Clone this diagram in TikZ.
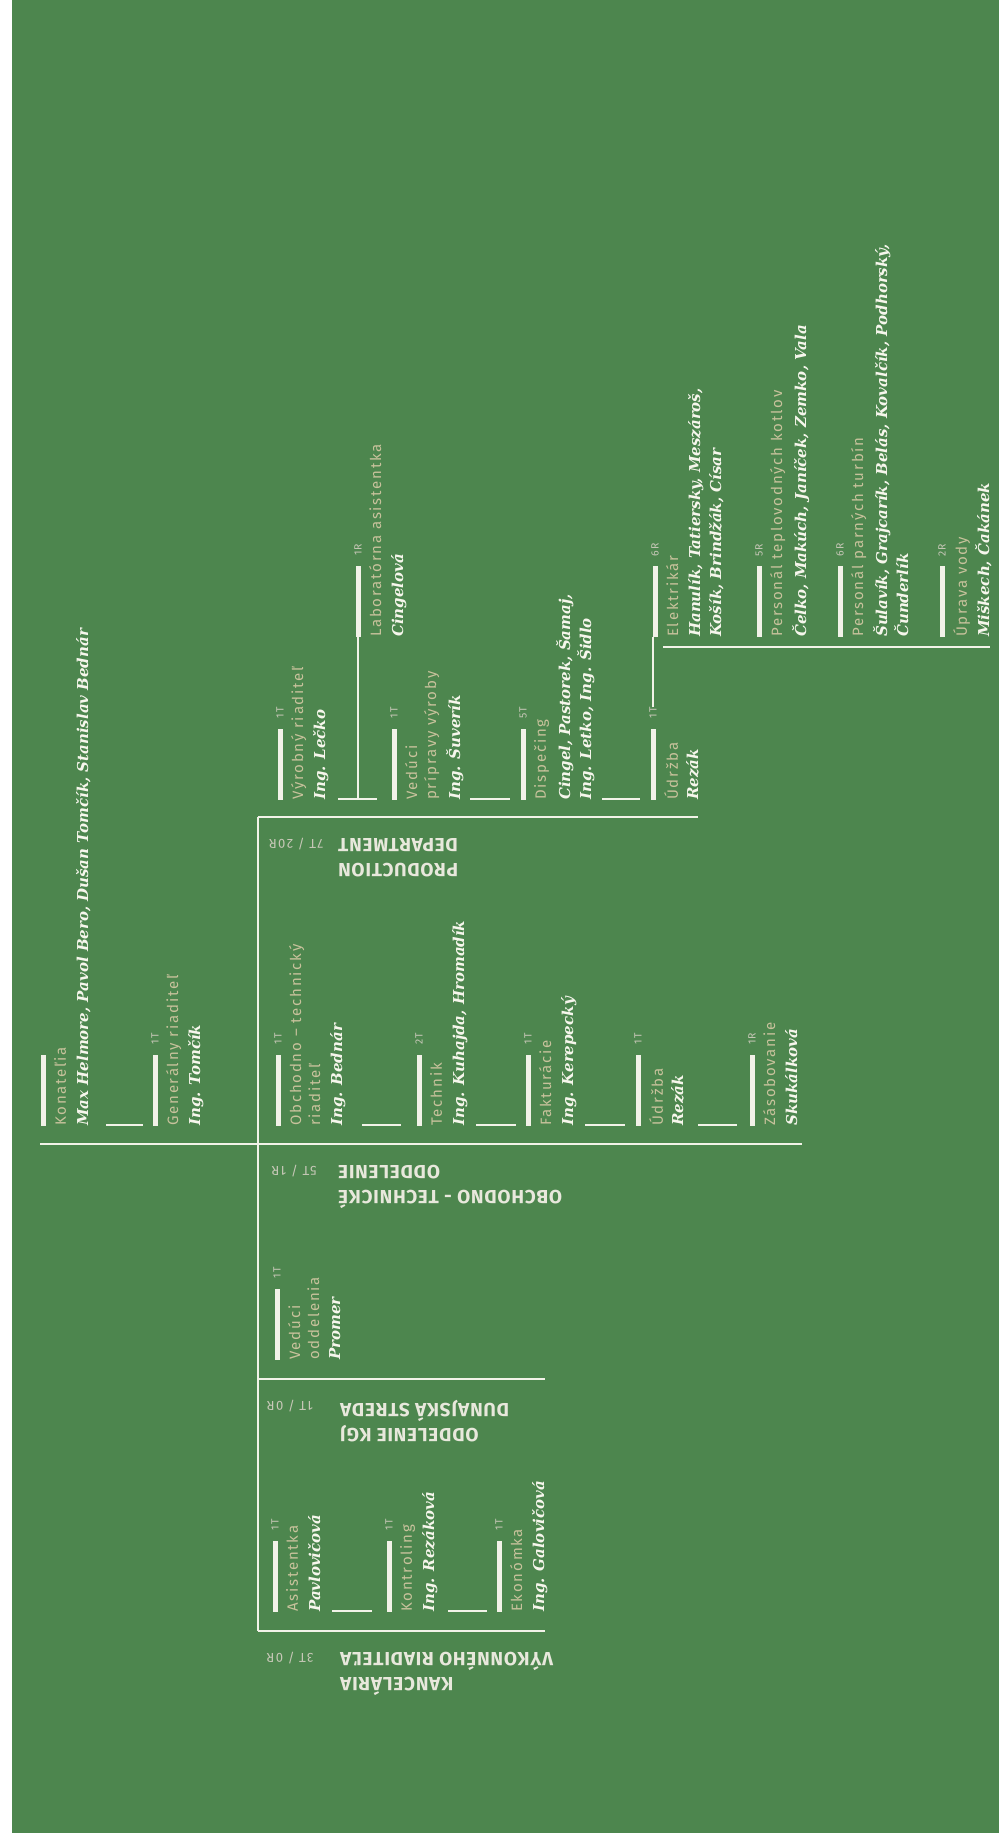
\documentclass[tikz,border=0pt]{standalone}
\usepackage{fontspec}
\setmainfont{Fira Sans}
\newfontfamily\rolefont[LetterSpace=12]{Fira Sans}
\newfontfamily\deptfont[LetterSpace=4]{Fira Sans}
\newfontfamily\cntfont[LetterSpace=10]{Fira Sans}
\newfontfamily\whofont{DejaVu Serif}
\definecolor{bggreen}{RGB}{77,134,78}
\definecolor{barwhite}{RGB}{242,242,232}
\definecolor{rolecol}{RGB}{200,194,156}
\definecolor{whocol}{RGB}{246,246,236}
\definecolor{deptcol}{RGB}{232,232,220}
\definecolor{cntcol}{RGB}{200,200,184}
\tikzset{
  bar/.style={fill=barwhite, minimum width=5pt, minimum height=71pt, inner sep=0pt},
  cnt/.style={rotate=90, inner sep=0pt, text=cntcol, font=\cntfont\fontsize{10.5}{12}\selectfont},
  role/.style={rotate=90, anchor=north west, inner sep=0pt, align=left, text=rolecol, font=\rolefont\fontsize{15}{19}\selectfont},
  who/.style={rotate=90, anchor=north west, inner sep=0pt, align=left, text=whocol, font=\whofont\bfseries\itshape\fontsize{15}{21}\selectfont},
  dept/.style={rotate=180, anchor=south east, inner sep=0pt, align=right, text=deptcol, font=\deptfont\bfseries\fontsize{19}{25}\selectfont},
  deptcnt/.style={rotate=180, inner sep=0pt, text=cntcol, font=\cntfont\fontsize{13}{15}\selectfont},
  rule/.style={draw=barwhite, line width=1.6pt}
}
\begin{document}
\begin{tikzpicture}[x=1pt, y=-1pt]
    \useasboundingbox (0, 0) rectangle (999, 1840);
    \fill[white] (0, 0) rectangle (999, 1840);
    \fill[bggreen] (12, 0) rectangle (999, 1833);

    % section lines
    \draw[rule] (40, 1144) -- (802, 1144);
    \draw[rule] (258, 817) -- (258, 1631);
    \draw[rule] (258, 817) -- (698, 817);
    \draw[rule] (258, 1379) -- (545, 1379);
    \draw[rule] (258, 1631) -- (545, 1631);
    \draw[rule] (663, 647) -- (990, 647);

    % department headers
    \draw (338, 838) node[dept](prod){PRODUCTION\\DEPARTMENT};
    \draw (296, 844) node[deptcnt](prodcnt){7T / 20R};
    \draw (338, 1165) node[dept](obch){OBCHODNO - TECHNICKÉ\\ODDELENIE};
    \draw (294, 1171) node[deptcnt](obchcnt){5T / 1R};
    \draw (340, 1400) node[dept](kgj){ODDELENIE KGJ\\DUNAJSKÁ STREDA};
    \draw (290, 1406) node[deptcnt](kgjcnt){1T / 0R};
    \draw (340, 1652) node[dept](kanc){KANCELÁRIA\\VÝKONNÉHO RIADITEĽA};
    \draw (290, 1658) node[deptcnt](kanccnt){3T / 0R};

    % top row
    \draw (43, 1090.5) node[bar](konbar){};
    \draw (54, 1126) node[role](konrole){Konateľia};
    \draw (76, 1126) node[who](konwho){Max Helmore, Pavol Bero, Dušan Tomčík, Stanislav Bednár};
    \draw[rule] (106, 1125) -- (143, 1125);
    \draw (155, 1090.5) node[bar](genbar){};
    \draw (155, 1039) node[cnt](gencnt){1T};
    \draw (166, 1126) node[role](genrole){Generálny riaditeľ};
    \draw (188, 1126) node[who](genwho){Ing. Tomčík};

    % obchodno - technicke oddelenie
    \draw (278, 1090.5) node[bar](otrbar){};
    \draw (278, 1039) node[cnt](otrcnt){1T};
    \draw (289, 1126) node[role](otrrole){Obchodno – technický\\riaditeľ};
    \draw (330, 1126) node[who](otrwho){Ing. Bednár};
    \draw[rule] (362, 1125) -- (401, 1125);
    \draw (419, 1090.5) node[bar](tecbar){};
    \draw (419, 1039) node[cnt](teccnt){2T};
    \draw (430, 1126) node[role](tecrole){Technik};
    \draw (452, 1126) node[who](tecwho){Ing. Kuhajda, Hromadík};
    \draw[rule] (476, 1125) -- (516, 1125);
    \draw (528, 1090.5) node[bar](fakbar){};
    \draw (528, 1039) node[cnt](fakcnt){1T};
    \draw (539, 1126) node[role](fakrole){Fakturácie};
    \draw (561, 1126) node[who](fakwho){Ing. Kerepecký};
    \draw[rule] (585, 1125) -- (625, 1125);
    \draw (638, 1090.5) node[bar](udrbar){};
    \draw (638, 1039) node[cnt](udrcnt){1T};
    \draw (649, 1126) node[role](udrrole){Údržba};
    \draw (671, 1126) node[who](udrwho){Rezák};
    \draw[rule] (698, 1125) -- (737, 1125);
    \draw (752, 1090.5) node[bar](zasbar){};
    \draw (752, 1039) node[cnt](zascnt){1R};
    \draw (763, 1126) node[role](zasrole){Zásobovanie};
    \draw (785, 1126) node[who](zaswho){Skukálková};

    % production department
    \draw (280, 764.5) node[bar](vyrbar){};
    \draw (280, 713) node[cnt](vyrcnt){1T};
    \draw (291, 800) node[role](vyrrole){Výrobný riaditeľ};
    \draw (313, 800) node[who](vyrwho){Ing. Lečko};
    \draw[rule] (338, 799) -- (377, 799);
    \coordinate (labjoin) at (358, 799);
    \draw (394, 764.5) node[bar](vedbar){};
    \draw (394, 713) node[cnt](vedcnt){1T};
    \draw (405, 800) node[role](vedrole){Vedúci\\prípravy výroby};
    \draw (446, 800) node[who](vedwho){Ing. Šuverík};
    \draw[rule] (470, 799) -- (510, 799);
    \draw (523, 764.5) node[bar](disbar){};
    \draw (523, 713) node[cnt](discnt){5T};
    \draw (534, 800) node[role](disrole){Dispečing};
    \draw (556, 800) node[who](diswho){Cingel, Pastorek, Šamaj,\\Ing. Letko, Ing. Šidlo};
    \draw[rule] (602, 799) -- (640, 799);
    \draw (653, 764.5) node[bar](ud2bar){};
    \draw (653, 713) node[cnt](ud2cnt){1T};
    \draw (664, 800) node[role](ud2role){Údržba};
    \draw (686, 800) node[who](ud2who){Rezák};

    % laboratory and maintenance staff
    \draw (358, 601.5) node[bar](labbar){};
    \draw (358, 550) node[cnt](labcnt){1R};
    \draw (369, 637) node[role](labrole){Laboratórna asistentka};
    \draw (391, 637) node[who](labwho){Cingelová};
    \draw (655, 601.5) node[bar](elebar){};
    \draw (655, 550) node[cnt](elecnt){6R};
    \draw (666, 637) node[role](elerole){Elektrikár};
    \draw (688, 637) node[who](elewho){Hanulík, Tatiersky, Meszároš,\\Košík, Brindžák, Císar};
    \draw (759, 601.5) node[bar](tepbar){};
    \draw (759, 550) node[cnt](tepcnt){5R};
    \draw (770, 637) node[role](teprole){Personál teplovodných kotlov};
    \draw (792, 637) node[who](tepwho){Čelko, Makúch, Janíček, Zemko, Vala};
    \draw (840, 601.5) node[bar](parbar){};
    \draw (840, 550) node[cnt](parcnt){6R};
    \draw (851, 637) node[role](parrole){Personál parných turbín};
    \draw (873, 637) node[who](parwho){Šulavík, Grajcarík, Belás, Kovalčík, Podhorský,\\Čunderlík};
    \draw (942, 601.5) node[bar](uprbar){};
    \draw (942, 550) node[cnt](uprcnt){2R};
    \draw (953, 637) node[role](uprrole){Úprava vody};
    \draw (975, 637) node[who](uprwho){Miškech, Čakánek};
    \draw[rule] (labbar.south) -- (labjoin);
    \draw[rule] (ud2cnt.east) -- (ud2cnt.east |- elebar.south);

    % oddelenie KGJ
    \draw (277, 1324.5) node[bar](vodbar){};
    \draw (277, 1273) node[cnt](vodcnt){1T};
    \draw (288, 1360) node[role](vodrole){Vedúci\\oddelenia};
    \draw (329, 1360) node[who](vodwho){Promer};

    % kancelaria
    \draw (275, 1576.5) node[bar](asibar){};
    \draw (275, 1525) node[cnt](asicnt){1T};
    \draw (286, 1612) node[role](asirole){Asistentka};
    \draw (308, 1612) node[who](asiwho){Pavlovičová};
    \draw[rule] (332, 1611) -- (372, 1611);
    \draw (389, 1576.5) node[bar](kotbar){};
    \draw (389, 1525) node[cnt](kotcnt){1T};
    \draw (400, 1612) node[role](kotrole){Kontroling};
    \draw (422, 1612) node[who](kotwho){Ing. Rezáková};
    \draw[rule] (448, 1611) -- (487, 1611);
    \draw (499, 1576.5) node[bar](ekobar){};
    \draw (499, 1525) node[cnt](ekocnt){1T};
    \draw (510, 1612) node[role](ekorole){Ekonómka};
    \draw (532, 1612) node[who](ekowho){Ing. Galovičová};
\end{tikzpicture}
\end{document}
